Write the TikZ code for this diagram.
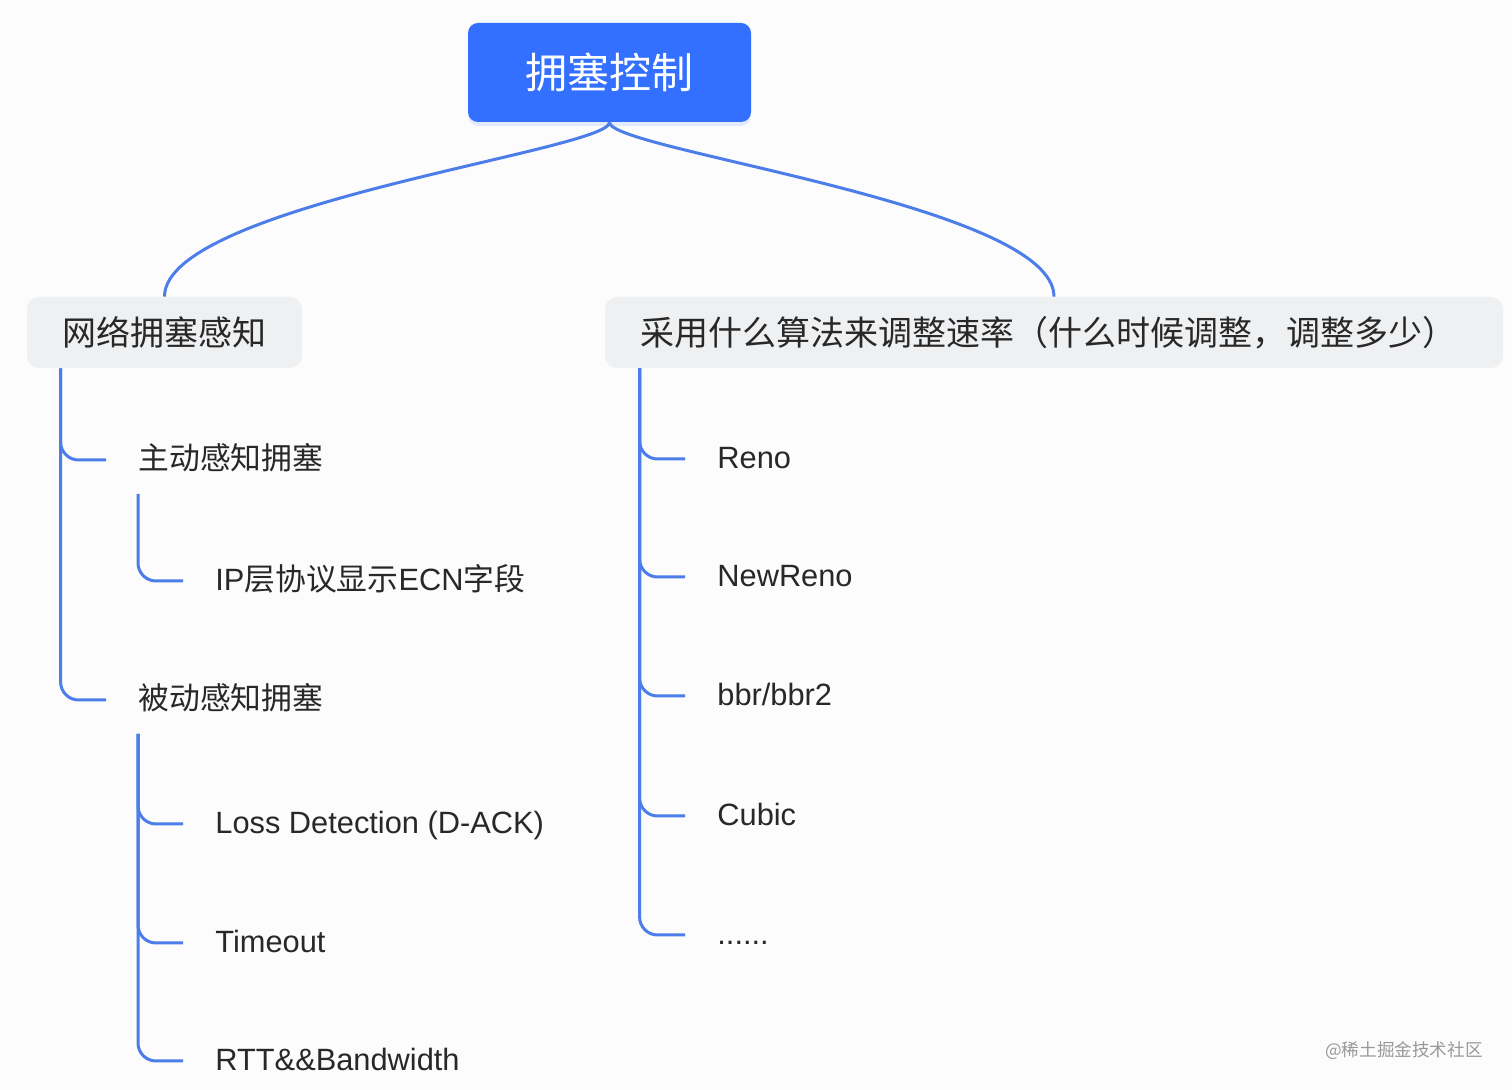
\documentclass[tikz,border=0pt]{standalone}
\usepackage{fontspec}
\setmainfont{Noto Sans CJK SC}
\newfontfamily\latin{Liberation Sans}
\usetikzlibrary{positioning,shadows}
\definecolor{rootblue}{RGB}{51,112,255}
\definecolor{linkblue}{RGB}{76,125,232}
\definecolor{topicgray}{RGB}{239,240,242}
\definecolor{inkdark}{RGB}{40,40,40}

\begin{document}
\begin{tikzpicture}[x=0.5pt,y=-0.5pt,
  root/.style={rounded corners=5pt,fill=rootblue,text=white,minimum width=141.5pt,minimum height=49.5pt,font=\fontsize{21}{25}\selectfont,drop shadow={opacity=0.12,fill=rootblue,shadow xshift=0pt,shadow yshift=-2pt}},
  topic/.style={rounded corners=6pt,fill=topicgray,text=inkdark,minimum height=35.5pt,font=\fontsize{17}{20}\selectfont},
  leaf/.style={anchor=west,inner sep=0pt,text=inkdark,text height=0.96em,text depth=0.04em,font=\fontsize{15.4}{18}\selectfont},
  link/.style={draw=linkblue,line width=1.5pt},
  branch/.style={draw=linkblue,line width=1.5pt,rounded corners=9pt}]
\fill[white!98!gray] (0,0) rectangle (1512,1090);
\useasboundingbox (0,0) rectangle (1512,1090);

\node[root] (root) at (609.5,72.5) {拥塞控制};
\node[topic,minimum width=137.5pt] (sense) at (164.5,332.5) {网络拥塞感知};
\node[topic,minimum width=449pt,text width=414pt,align=left] (algo) at (1054,332.5) {采用什么算法来调整速率（什么时候调整，调整多少）};

\draw[link] (root.south) .. controls +(0,28) and +(0,-92) .. (sense.north);
\draw[link] (root.south) .. controls +(0,28) and +(0,-92) .. (algo.north);

% left side
\node[leaf] (active) at (138,460) {主动感知拥塞};
\node[leaf] (ecn) at (215,581) {{\latin IP}层协议显示{\latin ECN}字段};
\node[leaf] (passive) at (138,700) {被动感知拥塞};
\node[leaf] (loss) at (215,824) {\latin Loss Detection (D-ACK)};
\node[leaf] (timeout) at (215,943) {\latin Timeout};
\node[leaf] (rtt) at (215,1061) {\latin RTT\&\&Bandwidth};

% right side
\node[leaf] (reno) at (717,459) {\latin Reno};
\node[leaf] (newreno) at (717,577) {\latin NewReno};
\node[leaf] (bbr) at (717,696) {\latin bbr/bbr2};
\node[leaf] (cubic) at (717,816) {\latin Cubic};
\node[leaf] (more) at (717,935) {\latin ......};

\foreach \t in {active,passive}\draw[branch] ([xshift=17pt]sense.south west) |- ([xshift=-16pt]\t.west);
\draw[branch] ([yshift=-17pt]active.west) |- ([xshift=-16pt]ecn.west);
\foreach \t in {loss,timeout,rtt}\draw[branch] ([yshift=-17pt]passive.west) |- ([xshift=-16pt]\t.west);
\foreach \t in {reno,newreno,bbr,cubic,more}\draw[branch] ([xshift=17.5pt]algo.south west) |- ([xshift=-16pt]\t.west);

\node[text=black!40,font=\fontsize{8.8}{10}\selectfont] (mark) at (1404,1051) {@稀土掘金技术社区};
\end{tikzpicture}
\end{document}
